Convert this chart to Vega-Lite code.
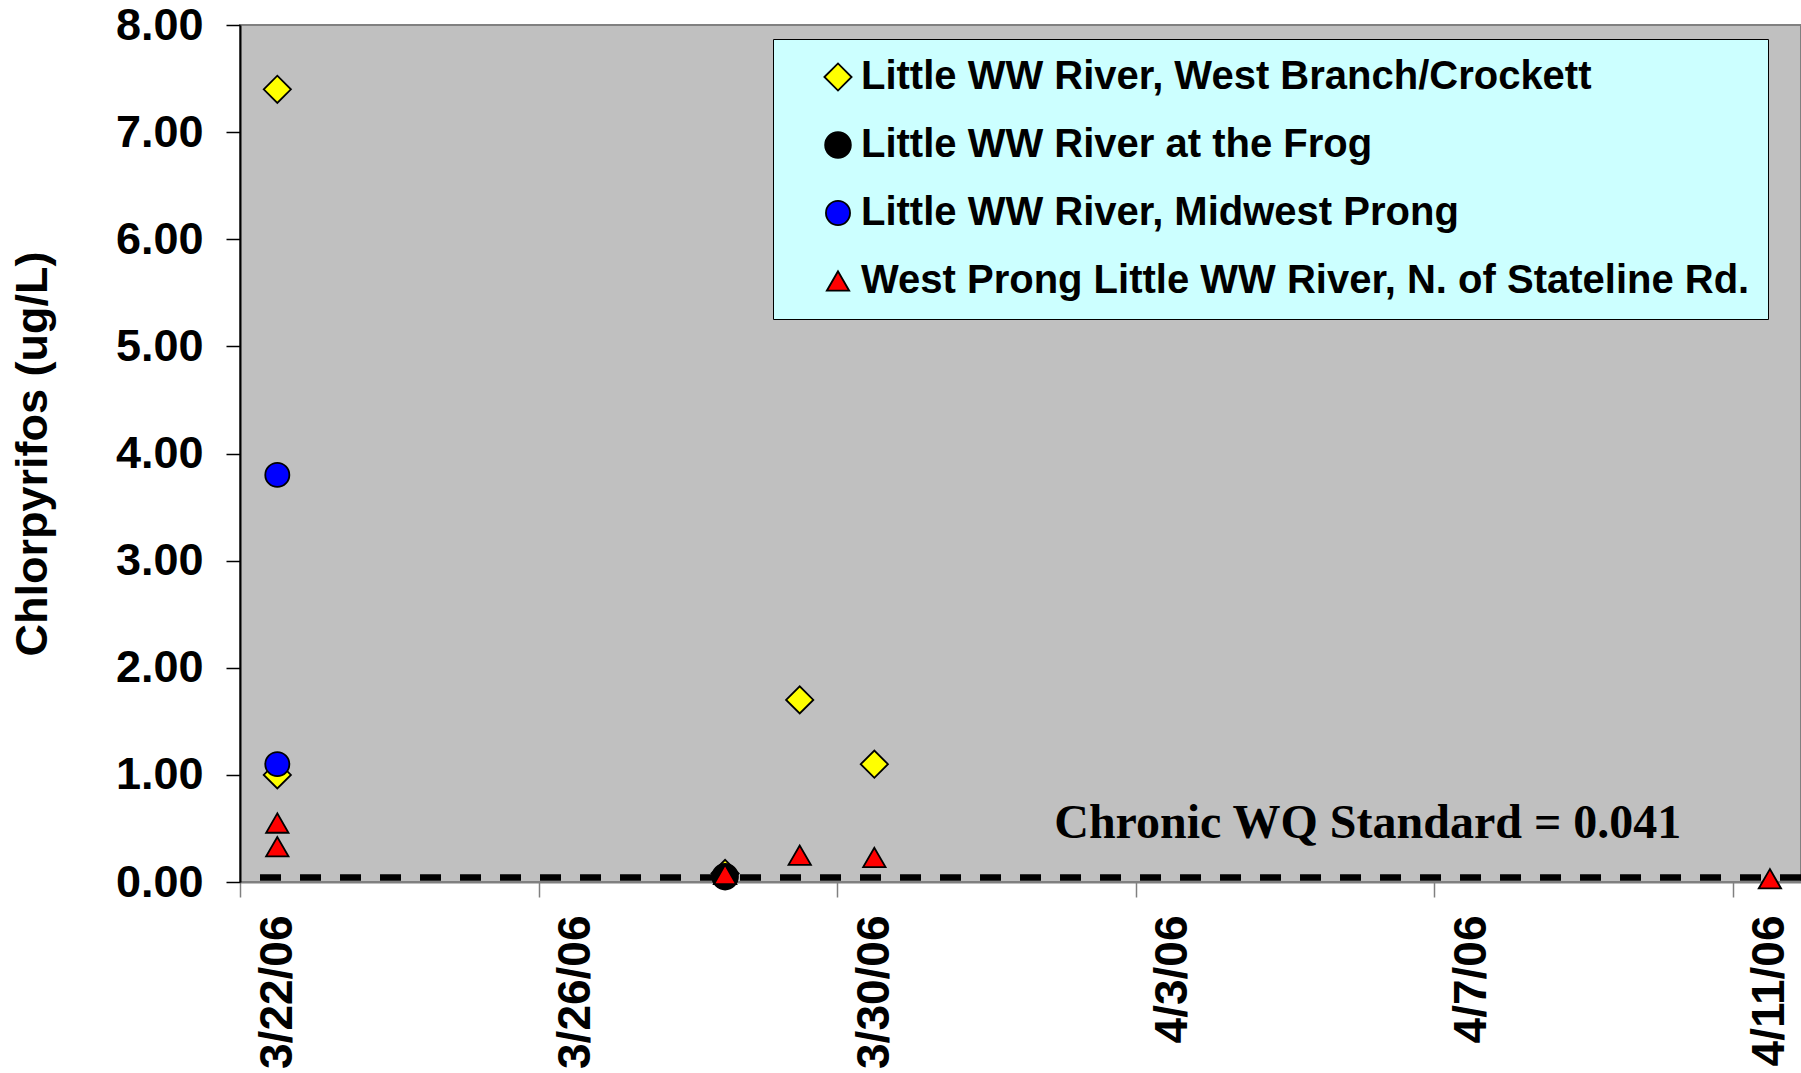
{
  "$schema": "https://vega.github.io/schema/vega-lite/v6.json",
  "width": 1561,
  "height": 857,
  "autosize": "none",
  "padding": {"left": 240, "top": 25, "right": 0, "bottom": 191},
  "background": "white",
  "config": {
    "view": {"fill": "#C0C0C0", "stroke": "#808080", "strokeWidth": 2},
    "font": "Liberation Sans",
    "legend": {
      "orient": "none",
      "legendX": 533,
      "legendY": 14,
      "fillColor": "#CCFFFF",
      "strokeColor": "#000000",
      "padding": 18,
      "rowPadding": 28,
      "labelFontSize": 40,
      "labelFontWeight": "bold",
      "labelColor": "#000000",
      "labelFont": "Liberation Sans",
      "labelLimit": 2000,
      "labelOffset": 3,
      "symbolOffset": 27,
      "symbolStrokeWidth": 1.8,
      "title": null
    }
  },
  "data": {
    "values": [
      {"site": " Little WW River, West Branch/Crockett", "date": "3/22/2006", "value": 7.40},
      {"site": " Little WW River, West Branch/Crockett", "date": "3/22/2006", "value": 1.00},
      {"site": " Little WW River, West Branch/Crockett", "date": "3/28/2006", "value": 0.08},
      {"site": " Little WW River, West Branch/Crockett", "date": "3/29/2006", "value": 1.70},
      {"site": " Little WW River, West Branch/Crockett", "date": "3/30/2006", "value": 1.10},
      {"site": "Little WW River at the Frog", "date": "3/28/2006", "value": 0.05},
      {"site": "Little WW River, Midwest Prong", "date": "3/22/2006", "value": 3.80},
      {"site": "Little WW River, Midwest Prong", "date": "3/22/2006", "value": 1.10},
      {"site": "West Prong Little WW River, N. of Stateline Rd.", "date": "3/22/2006", "value": 0.55},
      {"site": "West Prong Little WW River, N. of Stateline Rd.", "date": "3/22/2006", "value": 0.33},
      {"site": "West Prong Little WW River, N. of Stateline Rd.", "date": "3/28/2006", "value": 0.07},
      {"site": "West Prong Little WW River, N. of Stateline Rd.", "date": "3/29/2006", "value": 0.25},
      {"site": "West Prong Little WW River, N. of Stateline Rd.", "date": "3/30/2006", "value": 0.23},
      {"site": "West Prong Little WW River, N. of Stateline Rd.", "date": "4/11/2006", "value": 0.03}
    ]
  },
  "layer": [
    {
      "data": {"values": [{"standard": 0.041}]},
      "mark": {"type": "rule", "color": "#000000", "strokeWidth": 6.5, "strokeDash": [21, 19]},
      "encoding": {
        "y": {"field": "standard", "type": "quantitative"}
      }
    },
    {
      "mark": {"type": "point", "filled": true, "opacity": 1, "strokeWidth": 1.8, "strokeOpacity": 1},
      "encoding": {
        "x": {
          "field": "date",
          "type": "temporal",
          "timeUnit": "yearmonthdate",
          "bandPosition": 0.5,
          "scale": {
            "domain": [
              {"year": 2006, "month": 3, "date": 22},
              {"year": 2006, "month": 4, "date": 11, "hours": 22}
            ],
            "nice": false
          },
          "axis": {
            "title": null,
            "grid": false,
            "values": [
              {"year": 2006, "month": 3, "date": 22},
              {"year": 2006, "month": 3, "date": 26},
              {"year": 2006, "month": 3, "date": 30},
              {"year": 2006, "month": 4, "date": 3},
              {"year": 2006, "month": 4, "date": 7},
              {"year": 2006, "month": 4, "date": 11}
            ],
            "format": "%-m/%-d/%y",
            "labelAngle": -90,
            "labelFontSize": 46,
            "labelFontWeight": "bold",
            "labelColor": "#000000",
            "labelPadding": 18,
            "labelOffset": 37,
            "labelFlush": false,
            "labelOverlap": false,
            "domainColor": "#808080",
            "domainWidth": 2,
            "tickColor": "#808080",
            "tickSize": 15,
            "tickWidth": 1.5
          }
        },
        "y": {
          "field": "value",
          "type": "quantitative",
          "scale": {"domain": [0, 8], "nice": false},
          "axis": {
            "title": "Chlorpyrifos (ug/L)",
            "grid": false,
            "values": [0, 1, 2, 3, 4, 5, 6, 7, 8],
            "format": ".2f",
            "labelFontSize": 45,
            "labelFontWeight": "bold",
            "labelColor": "#000000",
            "labelPadding": 23,
            "labelFlush": false,
            "labelOverlap": false,
            "titleFontSize": 45,
            "titleFontWeight": "bold",
            "titleColor": "#000000",
            "titlePadding": 60,
            "domainColor": "#000000",
            "domainWidth": 2,
            "tickColor": "#000000",
            "tickSize": 14,
            "tickWidth": 1.5
          }
        },
        "fill": {
          "field": "site",
          "type": "nominal",
          "scale": {
            "domain": [" Little WW River, West Branch/Crockett", "Little WW River at the Frog", "Little WW River, Midwest Prong", "West Prong Little WW River, N. of Stateline Rd."],
            "range": ["#FFFF00", "#000000", "#0000FF", "#FF0000"]
          }
        },
        "stroke": {
          "field": "site",
          "type": "nominal",
          "scale": {
            "domain": [" Little WW River, West Branch/Crockett", "Little WW River at the Frog", "Little WW River, Midwest Prong", "West Prong Little WW River, N. of Stateline Rd."],
            "range": ["#000000", "#000000", "#000000", "#000000"]
          }
        },
        "shape": {
          "field": "site",
          "type": "nominal",
          "scale": {
            "domain": [" Little WW River, West Branch/Crockett", "Little WW River at the Frog", "Little WW River, Midwest Prong", "West Prong Little WW River, N. of Stateline Rd."],
            "range": ["diamond", "circle", "circle", "triangle-up"]
          }
        },
        "size": {
          "field": "site",
          "type": "nominal",
          "scale": {
            "domain": [" Little WW River, West Branch/Crockett", "Little WW River at the Frog", "Little WW River, Midwest Prong", "West Prong Little WW River, N. of Stateline Rd."],
            "range": [740, 500, 680, 500]
          }
        }
      }
    },
    {
      "data": {"values": [{"label": "Chronic WQ Standard = 0.041"}]},
      "mark": {"type": "text", "font": "Liberation Serif", "fontWeight": "bold", "fontSize": 48, "align": "center", "baseline": "middle", "color": "#000000"},
      "encoding": {
        "x": {"datum": {"year": 2006, "month": 4, "date": 6, "hours": 2, "minutes": 40}, "type": "temporal"},
        "y": {"datum": 0.54, "type": "quantitative"},
        "text": {"field": "label", "type": "nominal"}
      }
    }
  ]
}
